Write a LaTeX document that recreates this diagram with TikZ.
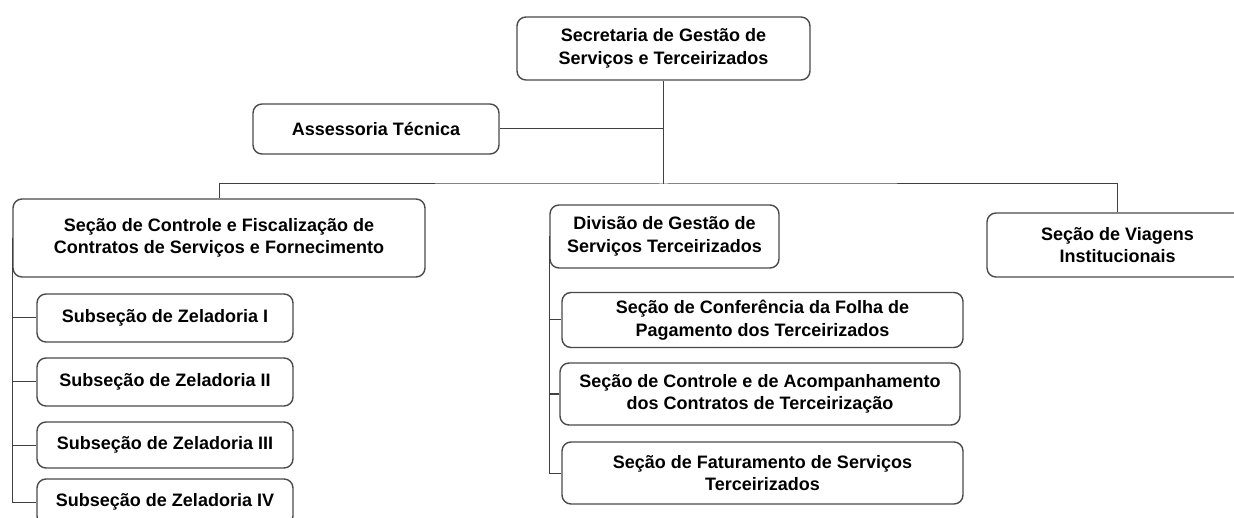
\documentclass[tikz,border=0pt]{standalone}
\usepackage{fontspec}
\setmainfont{Liberation Sans}
\usetikzlibrary{positioning}

\definecolor{boxline}{HTML}{4A4A4A}
\definecolor{linkline}{HTML}{404040}

\tikzset{
  unit/.style={draw=boxline,line width=1.4pt,rounded corners=9pt,fill=white,
    align=center,inner sep=0pt,font=\fontsize{18}{22.5}\selectfont\bfseries},
  link/.style={draw=linkline,line width=1pt}
}

\begin{document}
\begin{tikzpicture}[x=1pt,y=-1pt]

\useasboundingbox (0,0) rectangle (1234,518);

%Secretaria
\node[unit,minimum width=293pt,minimum height=63pt] (sec) at (663.5,48.5)
  {Secretaria de Gestão de\\Serviços e Terceirizados};
\node[unit,minimum width=246pt,minimum height=50pt] (ass) at (376,129)
  {Assessoria Técnica};

%primeiro nivel
\node[unit,minimum width=412pt,minimum height=78pt] (fisc) at (219,238)
  {Seção de Controle e Fiscalização de\\Contratos de Serviços e Fornecimento};
\node[unit,minimum width=229pt,minimum height=63pt] (div) at (664.5,236.5)
  {Divisão de Gestão de\\Serviços Terceirizados};
\node[unit,minimum width=261pt,minimum height=64pt] (viag) at (1117.5,245)
  {Seção de Viagens\\Institucionais};

%Subsecoes de zeladoria
\node[unit,minimum width=256pt,minimum height=48pt] (zel1) at (165,318) {Subseção de Zeladoria I};
\node[unit,minimum width=256pt,minimum height=48pt] (zel2) at (165,382) {Subseção de Zeladoria II};
\node[unit,minimum width=256pt,minimum height=46pt] (zel3) at (165,445) {Subseção de Zeladoria III};
\node[unit,minimum width=256pt,minimum height=46pt] (zel4) at (165,502) {Subseção de Zeladoria IV};

%Secoes da divisao
\node[unit,minimum width=401pt,minimum height=55pt] (folha) at (762.5,320)
  {Seção de Conferência da Folha de\\Pagamento dos Terceirizados};
\node[unit,minimum width=400pt,minimum height=62pt] (acomp) at (760,394)
  {Seção de Controle e de Acompanhamento\\dos Contratos de Terceirização};
\node[unit,minimum width=401pt,minimum height=62pt] (fat) at (762.5,473)
  {Seção de Faturamento de Serviços\\Terceirizados};

%ligacoes
\coordinate (bus) at (sec.south |- 0,184);
\draw[link] (sec.south) -- (bus);
\draw[link] (ass.east) -- (ass.east -| sec.south);
\draw[link] (fisc.north) |- (bus) -| (viag.north);

\foreach \z in {zel1,zel2,zel3,zel4}
  \draw[link] (fisc.west) |- (\z.west);
\foreach \s in {folha,acomp,fat}
  \draw[link] (div.west) |- (\s.west);

\end{tikzpicture}
\end{document}
